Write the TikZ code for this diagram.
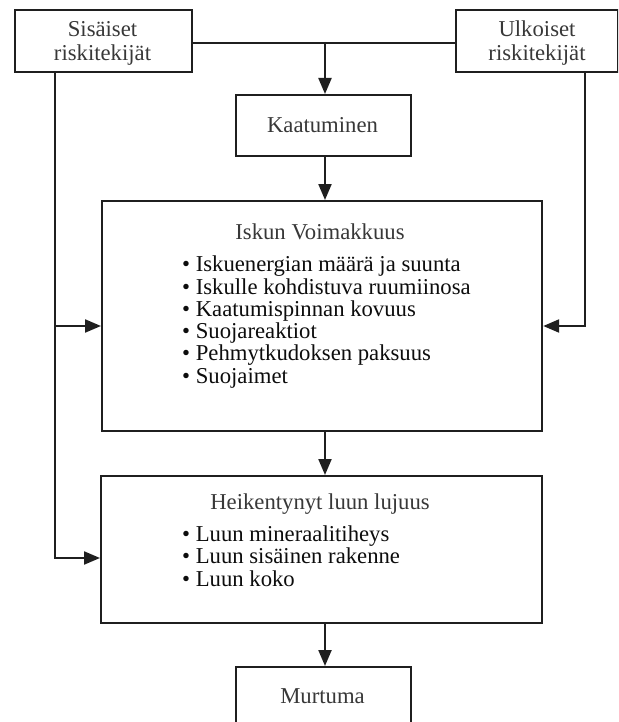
\documentclass[tikz,border=0pt]{standalone}
\usepackage{fontspec}
\setmainfont{Liberation Serif}
\usetikzlibrary{arrows.meta}
\definecolor{linecol}{gray}{0.12}
\definecolor{titlecol}{gray}{0.22}
\definecolor{bodycol}{gray}{0.05}
\begin{document}
\begin{tikzpicture}[x=1pt,y=-1pt,
  box/.style={draw=linecol, line width=2.2pt, rectangle, inner sep=0pt, anchor=north west},
  ttl/.style={text=titlecol, inner sep=0pt, anchor=base, font=\fontsize{22.7}{22.7}\selectfont},
  itm/.style={text=bodycol, inner sep=0pt, anchor=base west, font=\fontsize{22.7}{22.7}\selectfont},
  ln/.style={draw=linecol, line width=2.2pt},
  arr/.style={ln, -{Triangle[length=16pt,width=13pt]}}]
\useasboundingbox (0,0) rectangle (618,722);
\clip (0,0) rectangle (618,722);
\fill[white] (0,0) rectangle (618,722);
% boxes
\node[box, minimum width=177pt, minimum height=62pt] (sis) at (14,9) {};
\node[box, minimum width=162pt, minimum height=62pt] (ulk) at (454.5,9) {};
\node[box, minimum width=175pt, minimum height=61pt] (kaat) at (235,94) {};
\node[box, minimum width=440pt, minimum height=230pt] (isk) at (101,200) {};
\node[box, minimum width=441pt, minimum height=147pt] (heik) at (100,475) {};
\node[box, minimum width=175pt, minimum height=72pt] (murt) at (235,666) {};
% texts
\node[ttl] (sist1) at (102.5,37) {Sisäiset};
\node[ttl] (sist2) at (102.5,61) {riskitekijät};
\node[ttl] (ulkt1) at (537,37) {Ulkoiset};
\node[ttl] (ulkt2) at (537,61) {riskitekijät};
\node[ttl] (kaatt) at (322.5,132.5) {Kaatuminen};
\node[ttl] (iskt) at (320,239) {Iskun Voimakkuus};
\node[itm] (i1) at (182,271.7) {• Iskuenergian määrä ja suunta};
\node[itm] (i2) at (182,294) {• Iskulle kohdistuva ruumiinosa};
\node[itm] (i3) at (182,316.3) {• Kaatumispinnan kovuus};
\node[itm] (i4) at (182,338.6) {• Suojareaktiot};
\node[itm] (i5) at (182,360.9) {• Pehmytkudoksen paksuus};
\node[itm] (i6) at (182,383.2) {• Suojaimet};
\node[ttl] (heikt) at (320,509) {Heikentynyt luun lujuus};
\node[itm] (h1) at (182,541.7) {• Luun mineraalitiheys};
\node[itm] (h2) at (182,563.9) {• Luun sisäinen rakenne};
\node[itm] (h3) at (182,586.1) {• Luun koko};
\node[ttl] (murtt) at (322.5,703) {Murtuma};
% connectors
\coordinate (j) at (325,42);
\coordinate (la) at (55,326);
\coordinate (lb) at (55,558);
\coordinate (ra) at (585,326);
\draw[ln] ([yshift=-2pt]sis.east) -- ([yshift=-2pt]ulk.west);
\draw[arr] (j) -- (kaat.north -| j);
\draw[arr] (kaat.south -| j) -- (isk.north -| j);
\draw[arr] (isk.south -| j) -- (heik.north -| j);
\draw[arr] (heik.south -| j) -- (murt.north -| j);
\draw[arr] (sis.south -| lb) -- (lb) -- (lb -| heik.west);
\draw[arr] (la) -- (la -| isk.west);
\draw[arr] (ulk.south -| ra) -- (ra) -- (ra -| isk.east);
\end{tikzpicture}
\end{document}
